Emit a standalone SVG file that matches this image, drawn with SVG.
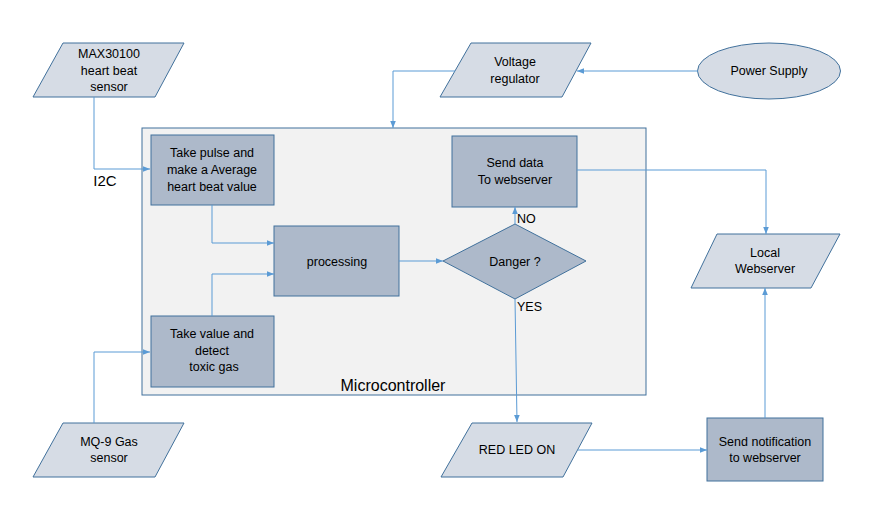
<svg xmlns="http://www.w3.org/2000/svg" width="895" height="510" viewBox="0 0 895 510">
<style>
.io{fill:#d6dce5;stroke:#41719c;stroke-width:1}
.bx{fill:#adb9ca;stroke:#41719c;stroke-width:1}
.t{font-family:"Liberation Sans",Arial,sans-serif;font-size:12.5px;fill:#000;text-anchor:middle;dominant-baseline:central}
.c{fill:none;stroke:#5b9bd5;stroke-width:1}
</style>
<defs>
<marker id="a" viewBox="0 0 10 10" refX="10" refY="5" markerWidth="7" markerHeight="7" markerUnits="userSpaceOnUse" orient="auto">
<path d="M0,1 L10,5 L0,9 Z" fill="#5b9bd5"/>
</marker>
</defs>
<rect width="895" height="510" fill="#fff"/>
<g id="microcontroller">
<rect x="142" y="128" width="504" height="267" fill="#f2f2f2" stroke="#41719c"/>
<text class="t" x="393" y="385" style="font-size:16px">Microcontroller</text>
</g>
<g id="max30100">
<polygon class="io" points="63,43 184,43 155,97 33,97"/>
<text class="t" x="109" y="54">MAX30100</text>
<text class="t" x="109" y="71">heart beat</text>
<text class="t" x="109" y="87">sensor</text>
</g>
<g id="voltage">
<polygon class="io" points="471,43 591,43 562,97 440,97"/>
<text class="t" x="515" y="62">Voltage</text>
<text class="t" x="515" y="79">regulator</text>
</g>
<g id="power">
<ellipse class="io" cx="769" cy="71" rx="71.5" ry="28"/>
<text class="t" x="769" y="71">Power Supply</text>
</g>
<g id="pulse">
<rect class="bx" x="151" y="135" width="123" height="70"/>
<text class="t" x="212" y="153">Take pulse and</text>
<text class="t" x="212" y="170">make a Average</text>
<text class="t" x="212" y="187">heart beat value</text>
</g>
<g id="gasproc">
<rect class="bx" x="151" y="316" width="123" height="71"/>
<text class="t" x="212" y="334">Take value and</text>
<text class="t" x="212" y="351">detect</text>
<text class="t" x="214" y="367">toxic gas</text>
</g>
<g id="processing">
<rect class="bx" x="274" y="226" width="125" height="70"/>
<text class="t" x="337" y="262">processing</text>
</g>
<g id="senddata">
<rect class="bx" x="452" y="136" width="125" height="71"/>
<text class="t" x="515" y="163">Send data</text>
<text class="t" x="515" y="180">To webserver</text>
</g>
<g id="danger">
<polygon class="bx" points="443,261 515,224 586,261 515,299"/>
<text class="t" x="515" y="262">Danger ?</text>
</g>
<g id="localweb">
<polygon class="io" points="717,234 840,234 811,288 691,288"/>
<text class="t" x="765" y="253">Local</text>
<text class="t" x="765" y="269">Webserver</text>
</g>
<g id="redled">
<polygon class="io" points="472,423 592,423 563,477 441,477"/>
<text class="t" x="517" y="450">RED LED ON</text>
</g>
<g id="notify">
<rect class="bx" x="707" y="418" width="116" height="63"/>
<text class="t" x="765" y="442">Send notification</text>
<text class="t" x="765" y="458">to webserver</text>
</g>
<g id="mq9">
<polygon class="io" points="63,423 184,423 155,477 33,477"/>
<text class="t" x="109" y="442">MQ-9 Gas</text>
<text class="t" x="109" y="458">sensor</text>
</g>
<g id="connectors">
<polyline class="c" points="94,97 94,169 150,169" marker-end="url(#a)"/>
<text class="t" x="105" y="180" style="font-size:15px">I2C</text>
<polyline class="c" points="94,423 94,352 150,352" marker-end="url(#a)"/>
<polyline class="c" points="698,71 577,71" marker-end="url(#a)"/>
<polyline class="c" points="455,71 393,71 393,128" marker-end="url(#a)"/>
<polyline class="c" points="212,205 212,243 274,243" marker-end="url(#a)"/>
<polyline class="c" points="212,316 212,274 274,274" marker-end="url(#a)"/>
<polyline class="c" points="399,261 443,261" marker-end="url(#a)"/>
<polyline class="c" points="515,224 515,207" marker-end="url(#a)"/>
<text class="t" x="517" y="219" style="text-anchor:start">NO</text>
<polyline class="c" points="515,299 517,422" marker-end="url(#a)"/>
<text class="t" x="517" y="307" style="text-anchor:start">YES</text>
<polyline class="c" points="577,170 766,170 766,234" marker-end="url(#a)"/>
<polyline class="c" points="578,450 707,450" marker-end="url(#a)"/>
<polyline class="c" points="765,418 765,288" marker-end="url(#a)"/>
</g>
</svg>
